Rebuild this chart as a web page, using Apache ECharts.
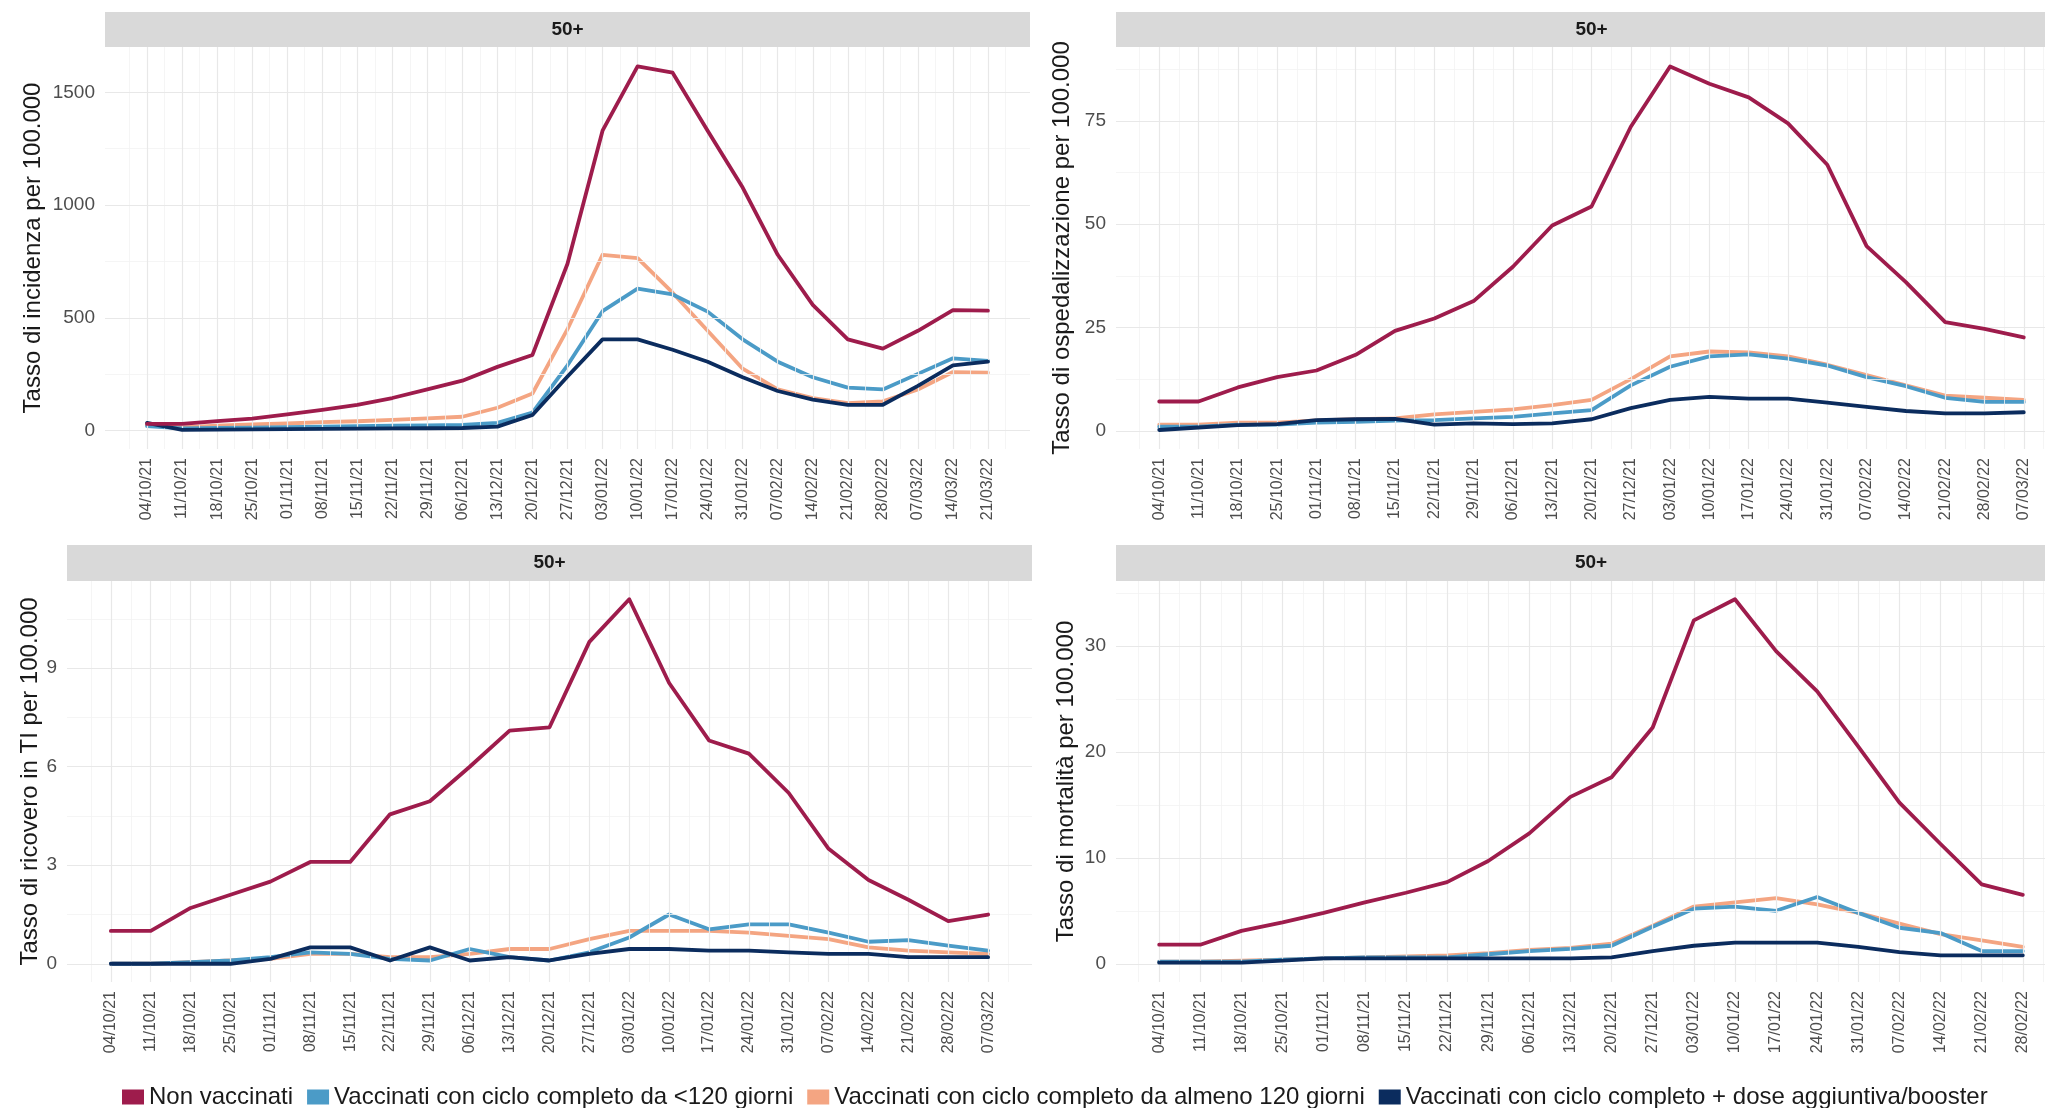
<!DOCTYPE html>
<html>
<head>
<meta charset="utf-8">
<script src="https://cdn.jsdelivr.net/npm/echarts@6/dist/echarts.min.js"></script>
<style>
html,body{margin:0;padding:0;background:#ffffff;}
#chart{width:2045px;height:1108px;}
</style>
</head>
<body>
<div id="chart"></div>
<script>
// ---------- DATA ----------
const weeks = ['04/10/21','11/10/21','18/10/21','25/10/21','01/11/21','08/11/21','15/11/21','22/11/21','29/11/21',
  '06/12/21','13/12/21','20/12/21','27/12/21','03/01/22','10/01/22','17/01/22','24/01/22','31/01/22',
  '07/02/22','14/02/22','21/02/22','28/02/22','07/03/22','14/03/22','21/03/22'];
const seriesNames = ['Non vaccinati','Vaccinati con ciclo completo da <120 giorni',
  'Vaccinati con ciclo completo da almeno 120 giorni','Vaccinati con ciclo completo + dose aggiuntiva/booster'];
const stripLabel = '50+';

// Incidenza (25 weeks)
const incidenzaNonVacc = [30,30,43,54,72,92,115,145,183,222,283,336,740,1330,1615,1587,1330,1078,780,558,405,364,443,535,532];
const incidenzaMeno120 = [20,10,12,14,16,18,20,22,24,26,35,80,290,530,630,604,528,405,306,237,191,183,252,321,310];
const incidenzaAlmeno120 = [25,15,22,28,32,38,42,48,55,62,102,165,450,780,765,612,443,275,183,145,122,130,183,260,257];
const incidenzaBooster = [35,4,5,6,7,8,9,10,11,12,18,70,240,405,405,359,306,237,176,138,115,115,199,290,306];
const incidenzaTicks = [0,500,1000,1500];

// Ospedalizzazione (23 weeks)
const ospNonVacc = [7.1,7.1,10.5,13.0,14.6,18.4,24.2,27.2,31.4,39.7,49.7,54.3,73.6,88.2,84.0,80.7,74.4,64.4,44.7,36.0,26.3,24.7,22.6];
const ospMeno120 = [1.0,1.0,1.5,1.5,2.0,2.2,2.5,2.6,3.0,3.4,4.2,5.0,11.0,15.5,18.0,18.5,17.5,15.8,13.0,10.8,8.0,7.0,7.0];
const ospAlmeno120 = [1.5,1.5,2.0,2.0,2.5,2.8,3.0,4.0,4.6,5.2,6.2,7.5,12.5,18.0,19.2,19.0,18.0,16.0,13.5,11.0,8.5,8.0,7.5];
const ospBooster = [0.2,0.8,1.4,1.6,2.6,2.8,2.9,1.5,1.8,1.6,1.8,2.8,5.5,7.5,8.2,7.8,7.8,6.8,5.8,4.8,4.2,4.2,4.5];
const ospTicks = [0,25,50,75];

// Ricovero in TI (23 weeks)
const tiNonVacc = [1.0,1.0,1.7,2.1,2.5,3.1,3.1,4.55,4.95,6.0,7.1,7.2,9.8,11.1,8.55,6.8,6.4,5.2,3.5,2.55,1.95,1.3,1.5];
const tiMeno120 = [0.0,0.0,0.05,0.1,0.2,0.35,0.3,0.15,0.1,0.45,0.2,0.1,0.35,0.8,1.5,1.05,1.2,1.2,0.95,0.67,0.72,0.55,0.4];
const tiAlmeno120 = [0.0,0.0,0.05,0.1,0.15,0.3,0.3,0.2,0.2,0.3,0.45,0.45,0.75,1.0,1.0,1.0,0.95,0.85,0.75,0.5,0.4,0.35,0.3];
const tiBooster = [0.0,0.0,0.0,0.0,0.15,0.5,0.5,0.1,0.5,0.1,0.2,0.1,0.3,0.45,0.45,0.4,0.4,0.35,0.3,0.3,0.2,0.2,0.2];
const tiTicks = [0,3,6,9];

// Mortalità (22 weeks)
const mortNonVacc = [1.8,1.8,3.1,3.9,4.8,5.8,6.7,7.7,9.7,12.3,15.75,17.6,22.3,32.4,34.4,29.5,25.7,20.5,15.2,11.3,7.5,6.5];
const mortMeno120 = [0.2,0.2,0.2,0.4,0.5,0.6,0.6,0.6,0.9,1.2,1.4,1.7,3.5,5.2,5.4,5.0,6.3,4.8,3.4,2.9,1.2,1.2];
const mortAlmeno120 = [0.2,0.2,0.3,0.4,0.5,0.6,0.7,0.8,1.0,1.3,1.5,1.9,3.6,5.4,5.8,6.2,5.6,4.8,3.8,2.8,2.2,1.6];
const mortBooster = [0.1,0.1,0.1,0.3,0.5,0.5,0.5,0.5,0.5,0.5,0.5,0.6,1.2,1.7,2.0,2.0,2.0,1.6,1.1,0.8,0.8,0.8];
const mortTicks = [0,10,20,30];

// ---------- LAYOUT / STYLE ----------
const FONT = '"Liberation Sans", Arial, sans-serif';
const colors = ['#9e1c4c', '#4b9bc7', '#f4a582', '#0b2c5e'];
const drawOrder = [2, 1, 3, 0]; // peach, blue, navy, crimson (z order)

const panels = [
  { left:105, top:47, width:925, height:402, yMin:-81, yMax:1701, ticks:incidenzaTicks,
    title:'Tasso di incidenza per 100.000', nameGap:60, stripTop:12, stripH:35,
    values:[incidenzaNonVacc, incidenzaMeno120, incidenzaAlmeno120, incidenzaBooster] },
  { left:1116, top:47, width:951, height:402, yMin:-4.4, yMax:92.9, ticks:ospTicks,
    title:'Tasso di ospedalizzazione per 100.000', nameGap:42, stripTop:12, stripH:35,
    values:[ospNonVacc, ospMeno120, ospAlmeno120, ospBooster] },
  { left:67, top:581, width:965, height:401, yMin:-0.555, yMax:11.655, ticks:tiTicks,
    title:'Tasso di ricovero in TI per 100.000', nameGap:22, stripTop:545, stripH:36,
    values:[tiNonVacc, tiMeno120, tiAlmeno120, tiBooster] },
  { left:1116, top:581, width:950, height:401, yMin:-1.72, yMax:36.12, ticks:mortTicks,
    title:'Tasso di mortalità per 100.000', nameGap:38, stripTop:545, stripH:36,
    values:[mortNonVacc, mortMeno120, mortAlmeno120, mortBooster] }
];

const grids = [], xAxes = [], yAxes = [], series = [], graphics = [];

panels.forEach((p, i) => {
  const n = p.values[0].length;
  const idx = weeks.slice(0, n).map((_, j) => j);
  const xMin = -0.05 * (n - 1), xMax = 1.05 * (n - 1);
  grids.push({ left:p.left, top:p.top, width:p.width, height:p.height, outerBoundsMode:'none', containLabel:false });
  xAxes.push({
    gridIndex:i, type:'value', min:xMin, max:xMax,
    axisLine:{show:false}, splitLine:{show:false},
    axisTick:{show:true, customValues:idx, length:5, lineStyle:{color:'#9a9a9a', width:1}},
    axisLabel:{show:true, customValues:idx, rotate:90, margin:9, fontSize:16, color:'#4d4d4d', fontFamily:FONT,
      formatter:(v) => weeks[Math.round(v)]}
  });
  yAxes.push({
    gridIndex:i, type:'value', min:p.yMin, max:p.yMax,
    axisLine:{show:false}, splitLine:{show:false},
    axisTick:{show:true, customValues:p.ticks, length:5, lineStyle:{color:'#9a9a9a', width:1}},
    axisLabel:{show:true, customValues:p.ticks, margin:10, fontSize:19, color:'#4d4d4d', fontFamily:FONT,
      formatter:(v) => String(v)},
    name:p.title, nameLocation:'middle', nameGap:p.nameGap,
    nameTextStyle:{fontSize:24, color:'#1a1a1a', fontFamily:FONT}
  });
  // gridlines (major + minor) through the axes' scales
  const t = p.ticks, step = t[1] - t[0];
  const yMinor = [];
  for (let k = 0; k < t.length + 1; k++) { const v = t[0] + step * (k + 0.5); if (v < p.yMax) yMinor.push(v); }
  const xMinor = [];
  for (let j = -1; j < n; j++) { const v = j + 0.5; if (v > xMin && v < xMax) xMinor.push(v); }
  const mlData = [];
  xMinor.forEach(v => mlData.push({ xAxis:v, lineStyle:{color:'#f2f2f2', width:0.8, type:'solid'} }));
  yMinor.forEach(v => mlData.push({ yAxis:v, lineStyle:{color:'#f2f2f2', width:0.8, type:'solid'} }));
  idx.forEach(v => mlData.push({ xAxis:v, lineStyle:{color:'#e8e8e8', width:1.2, type:'solid'} }));
  t.forEach(v => mlData.push({ yAxis:v, lineStyle:{color:'#e8e8e8', width:1.2, type:'solid'} }));
  series.push({
    type:'line', xAxisIndex:i, yAxisIndex:i, data:[], silent:true, z:1, legendHoverLink:false,
    markLine:{ silent:true, symbol:['none','none'], label:{show:false}, animation:false, data:mlData }
  });
  drawOrder.forEach((s, k) => {
    series.push({
      name:seriesNames[s], type:'line', xAxisIndex:i, yAxisIndex:i, z:3 + k,
      data:p.values[s].map((v, j) => [j, v]),
      showSymbol:false, symbol:'none', smooth:false,
      lineStyle:{color:colors[s], width:3.8, join:'round', cap:'round'},
      itemStyle:{color:colors[s]}
    });
  });
  // facet strip
  graphics.push({ type:'rect', shape:{x:p.left, y:p.stripTop, width:p.width, height:p.stripH},
    style:{fill:'#d9d9d9'}, silent:true, z:0 });
  graphics.push({ type:'text', x:p.left + p.width / 2, y:p.stripTop + p.stripH / 2,
    style:{text:stripLabel, font:'bold 19px ' + FONT, fill:'#1a1a1a', textAlign:'center', textVerticalAlign:'middle', verticalAlign:'middle'},
    silent:true, z:1 });
});

const chart = echarts.init(document.getElementById('chart'), null, {renderer:'canvas'});
chart.setOption({
  animation:false,
  backgroundColor:'#ffffff',
  textStyle:{fontFamily:FONT},
  grid:grids, xAxis:xAxes, yAxis:yAxes, series:series, graphic:graphics,
  legend:{
    left:117, top:1080, itemWidth:22, itemHeight:15, itemGap:14, icon:'rect',
    textStyle:{fontSize:24, color:'#1a1a1a', fontFamily:FONT},
    data:seriesNames
  }
});
</script>
</body>
</html>
